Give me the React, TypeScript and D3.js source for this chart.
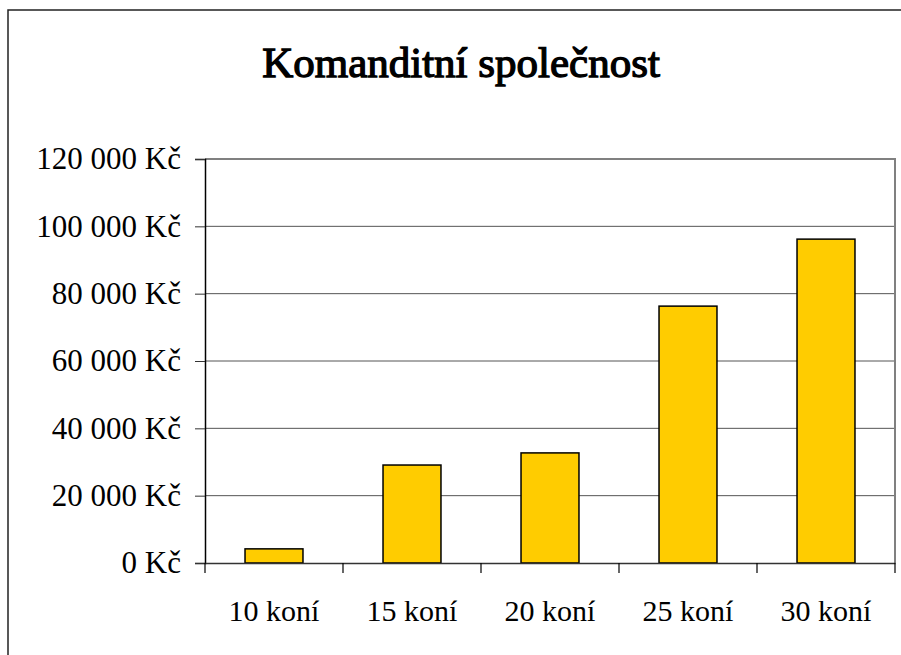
import React, { useRef, useEffect } from 'react';
import { select, scaleBand, scaleLinear, axisLeft, axisBottom } from 'd3';

const categories = ['10 koní', '15 koní', '20 koní', '25 koní', '30 koní'];
const values = [4200, 29100, 32700, 76300, 96200];
const yTicks = [0, 20000, 40000, 60000, 80000, 100000, 120000];
const title = 'Komanditní společnost';

const formatKc = (v: number) =>
  String(v).replace(/\B(?=(\d{3})+(?!\d))/g, ' ') + ' Kč';

const App: React.FC = () => {
  const svgRef = useRef<SVGSVGElement>(null);

  useEffect(() => {
    const svg = select(svgRef.current);
    svg.selectAll('*').remove();
    const font = 'Liberation Serif, serif';

    const left = 205;
    const right = 895;
    const top = 159;
    const bottom = 563;

    // outer chart frame (runs off the page on right and bottom)
    svg
      .append('rect')
      .attr('x', 8)
      .attr('y', 10)
      .attr('width', 1000)
      .attr('height', 1000)
      .attr('fill', '#fff')
      .attr('stroke', '#222')
      .attr('stroke-width', 1.5);

    // bold face is faked with a stroke, the bold serif isn't always matched
    svg
      .append('text')
      .attr('x', 461)
      .attr('y', 77)
      .attr('text-anchor', 'middle')
      .attr('font-family', font)
      .attr('font-size', 43)
      .attr('stroke', '#000')
      .attr('stroke-width', 1.3)
      .text(title);

    const x = scaleBand<string>().domain(categories).range([left, right]);
    const y = scaleLinear().domain([0, 120000]).range([bottom, top]);

    // gridlines
    svg
      .selectAll('.grid')
      .data(yTicks.filter(t => t > 0 && t < 120000))
      .join('line')
      .attr('class', 'grid')
      .attr('x1', left)
      .attr('x2', right)
      .attr('y1', d => y(d))
      .attr('y2', d => y(d))
      .attr('stroke', '#555')
      .attr('stroke-width', 1);

    // plot area border (top + right)
    svg
      .append('path')
      .attr('d', `M${left},${top}H${right}V${bottom}`)
      .attr('fill', 'none')
      .attr('stroke', '#808080')
      .attr('stroke-width', 2);

    // bars
    const barW = x.bandwidth() * 0.42;
    svg
      .selectAll('.bar')
      .data(values)
      .join('rect')
      .attr('class', 'bar')
      .attr('x', (_d, i) => (x(categories[i]) ?? 0) + x.bandwidth() / 2 - barW / 2)
      .attr('y', d => y(d))
      .attr('width', barW)
      .attr('height', d => bottom - y(d))
      .attr('fill', '#FFCC00')
      .attr('stroke', '#000')
      .attr('stroke-width', 1.5);

    // y axis
    const yAxis = axisLeft(y)
      .tickValues(yTicks)
      .tickSize(10)
      .tickPadding(14)
      .tickFormat(d => formatKc(d as number));
    const gy = svg
      .append('g')
      .attr('transform', `translate(${left},0)`)
      .call(yAxis);
    gy.select('.domain').attr('stroke', '#000').attr('stroke-width', 1.5);
    gy.selectAll('.tick line').attr('stroke', '#333');
    gy.selectAll('.tick text')
      .attr('font-family', font)
      .attr('font-size', 31)
      .attr('fill', '#000')
      .attr('dy', '0.32em');

    // x axis
    const xAxis = axisBottom(x).tickSize(0).tickPadding(0);
    const gx = svg
      .append('g')
      .attr('transform', `translate(0,${bottom})`)
      .call(xAxis);
    gx.select('.domain').attr('stroke', '#333').attr('stroke-width', 1.5);
    gx.selectAll('.tick text')
      .attr('font-family', font)
      .attr('font-size', 30)
      .attr('fill', '#000')
      .attr('y', 58)
      .attr('dy', 0);
    gx.selectAll('.sep')
      .data([...categories.map(c => x(c) ?? 0), right])
      .join('line')
      .attr('class', 'sep')
      .attr('x1', d => d)
      .attr('x2', d => d)
      .attr('y1', 0)
      .attr('y2', 10)
      .attr('stroke', '#000')
      .attr('stroke-width', 1.2);
  }, []);

  return (
    <svg
      ref={svgRef}
      width={901}
      height={655}
      style={{ position: 'absolute', left: 0, top: 0, background: '#fff' }}
    />
  );
};

export default App;
